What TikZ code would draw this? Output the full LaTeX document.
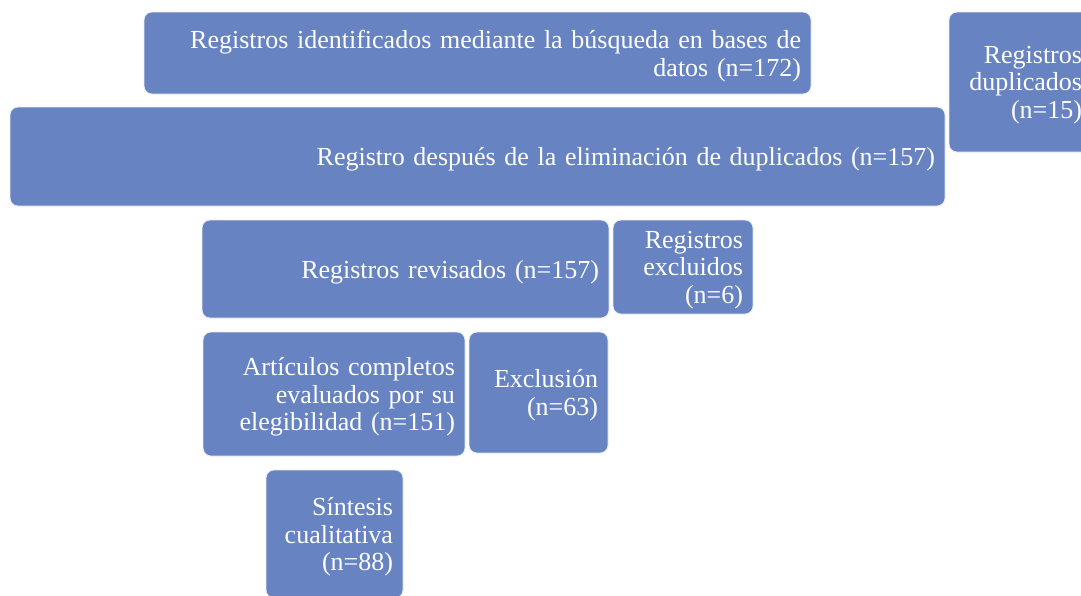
\documentclass[tikz,border=0pt]{standalone}
\usepackage{fontspec}
\setmainfont{Liberation Serif}
\definecolor{boxblue}{RGB}{103,131,194}
\tikzset{
  flowbox/.style={rounded corners=8pt, fill=boxblue, draw=white!85!boxblue, line width=0.8pt,
    inner sep=0pt, anchor=center},
  flowtext/.style={text=white, inner sep=0pt, align=right, anchor=center,
    font=\fontsize{26}{27.6}\selectfont}
}
\begin{document}
\begin{tikzpicture}[x=1pt,y=-1pt]
\useasboundingbox (0,0) rectangle (1081,595);
\clip (0,0) rectangle (1081,595);
\node[flowbox, minimum width=667pt, minimum height=82pt] (ident) at (477.5,53) {};
\node[flowtext, text width=647pt] (identt) at ([yshift=-3pt]ident.center) {Registros identificados mediante la búsqueda en bases de\\datos (n=172)};
\node[flowbox, minimum width=143pt, minimum height=140pt] (dup) at (1020.5,82) {};
\node[flowtext, text width=123pt] (dupt) at ([yshift=-3pt]dup.center) {Registros\\duplicados\\(n=15)};
\node[flowbox, minimum width=935pt, minimum height=99pt] (elim) at (477.5,156.5) {};
\node[flowtext, text width=915pt] (elimt) at ([yshift=-3pt]elim.center) {Registro después de la eliminación de duplicados (n=157)};
\node[flowbox, minimum width=407pt, minimum height=98pt] (rev) at (405.5,269) {};
\node[flowtext, text width=387pt] (revt) at ([yshift=-3pt]rev.center) {Registros revisados (n=157)};
\node[flowbox, minimum width=140pt, minimum height=94pt] (excl) at (683,267) {};
\node[flowtext, text width=120pt] (exclt) at ([yshift=-3pt]excl.center) {Registros\\excluidos\\(n=6)};
\node[flowbox, minimum width=262pt, minimum height=124pt] (art) at (334,394) {};
\node[flowtext, text width=242pt] (artt) at ([yshift=-3pt]art.center) {Artículos completos\\evaluados por su\\elegibilidad (n=151)};
\node[flowbox, minimum width=139pt, minimum height=121pt] (exclu) at (538.5,392.5) {};
\node[flowtext, text width=119pt] (exclut) at ([yshift=-3pt]exclu.center) {Exclusión\\(n=63)};
\node[flowbox, minimum width=137pt, minimum height=128pt] (sint) at (334.5,534) {};
\node[flowtext, text width=117pt] (sintt) at ([yshift=-3pt]sint.center) {Síntesis\\cualitativa\\(n=88)};
\end{tikzpicture}
\end{document}
